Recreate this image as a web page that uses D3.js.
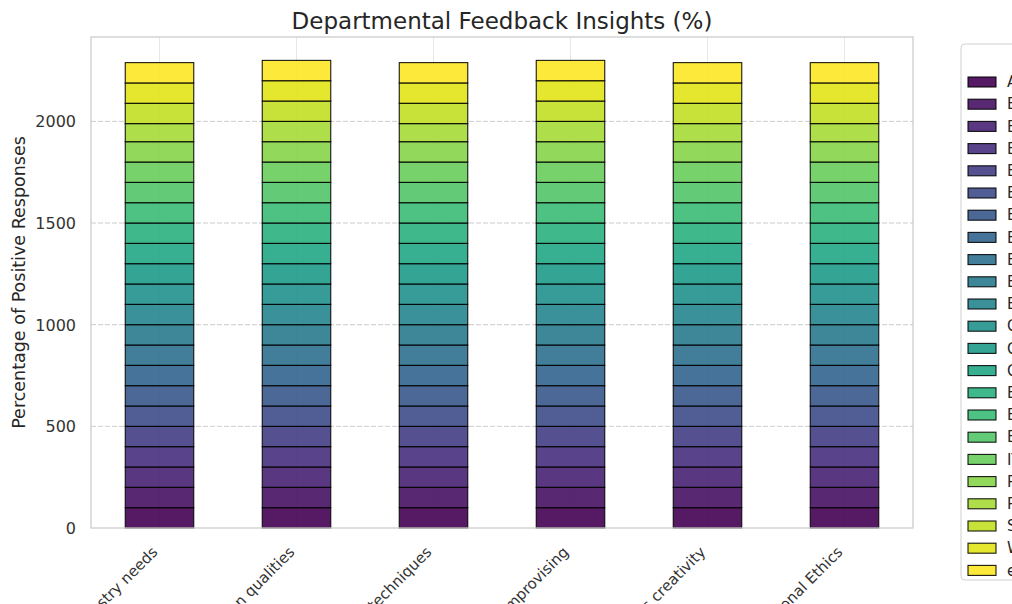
<!DOCTYPE html>
<html>
<head>
<meta charset="UTF-8">
<title>Departmental Feedback Insights</title>
<script src="https://d3js.org/d3.v7.min.js"></script>
<style>
    body {
        margin: 0;
        background: #fff;
        font-family: "DejaVu Sans", sans-serif;
    }
    svg {
        display: block;
    }
    text {
        fill: #262626;
    }
    .tick text {
        fill: #333;
    }
    .grid-y line {
        stroke: #cccccc;
        stroke-dasharray: 5 2;
    }
    .grid-x line {
        stroke: #e6e6e6;
    }
</style>
</head>
<body>
<svg width="1012" height="604"></svg>
<script>
    // feedback questions (x axis)
    const questions = [
        "Curriculum meets industry needs",
        "Faculty communication qualities",
        "Teaching techniques",
        "Scope for improvising",
        "Encourages creativity",
        "Professional Ethics"
    ];

    // departments (legend order)
    const departments = [
        "Architecture", "B.Arch", "B.Com", "B.Pharm", "B.Sc", "BBA", "BCA",
        "BE Biotech", "BE Bio-Medical", "BE Civil", "BE Mech",
        "Chemical", "Civil", "Computer Science",
        "ECE", "EEE", "EIE",
        "IT", "Pharmacy", "Physics", "Science", "Workshop", "e-Learning"
    ];

    // percentage of positive responses, one array per department (values per question)
    const dept_values = [
        [100, 100, 100, 100, 100, 100],
        [100, 100, 100, 100, 100, 100],
        [100, 100, 100, 100, 100, 100],
        [100, 100, 100, 100, 100, 100],
        [100, 100, 100, 100, 100, 100],
        [100, 100, 100, 100, 100, 100],
        [100, 100, 100, 100, 100, 100],
        [100, 100, 100, 100, 100, 100],
        [100, 100, 100, 100, 100, 100],
        [100, 100, 100, 100, 100, 100],
        [100, 100, 100, 100, 100, 100],
        [100, 100, 100, 100, 100, 100],
        [100, 100, 100, 100, 100, 100],
        [100, 100, 100, 100, 100, 100],
        [100, 100, 100, 100, 100, 100],
        [100, 100, 100, 100, 100, 100],
        [100, 100, 100, 100, 100, 100],
        [100, 100, 100, 100, 100, 100],
        [100, 100, 100, 100, 100, 100],
        [89, 100, 89, 100, 89, 89],
        [100, 100, 100, 100, 100, 100],
        [100, 100, 100, 100, 100, 100],
        [100, 100, 100, 100, 100, 100]
    ];

    const yTicks = [0, 500, 1000, 1500, 2000];

    const svg = d3.select("svg");
    const margin = { top: 37, right: 99, bottom: 76, left: 91 };
    const width = 1012 - margin.left - margin.right;
    const height = 604 - margin.top - margin.bottom;

    // build table rows for the stack
    const rows = questions.map((q, qi) => {
        const r = { question: q };
        departments.forEach((d, di) => { r[d] = dept_values[di][qi]; });
        return r;
    });
    const series = d3.stack().keys(departments)(rows);
    const maxTotal = d3.max(rows, r => d3.sum(departments, d => r[d]));

    const x = d3.scaleBand().domain(questions).range([0, width]).paddingInner(0.5).paddingOuter(0.25);
    const y = d3.scaleLinear().domain([0, maxTotal * 1.05]).range([height, 0]);
    const colour = (i) => d3.interpolateViridis(i / (departments.length - 1));

    const g = svg.append("g").attr("transform", `translate(${margin.left},${margin.top})`);

    // vertical grid at category centres
    g.append("g").attr("class", "grid-x")
        .selectAll("line").data(questions).join("line")
        .attr("x1", d => x(d) + x.bandwidth() / 2)
        .attr("x2", d => x(d) + x.bandwidth() / 2)
        .attr("y1", 0).attr("y2", height);

    // dashed horizontal grid
    g.append("g").attr("class", "grid-y")
        .selectAll("line").data(yTicks.slice(1)).join("line")
        .attr("x1", 0).attr("x2", width)
        .attr("y1", d => y(d)).attr("y2", d => y(d));

    // stacked bars
    g.append("g").selectAll("g").data(series).join("g")
        .attr("fill", (s, i) => colour(i))
        .selectAll("rect").data(s => s).join("rect")
        .attr("x", d => x(d.data.question))
        .attr("y", d => y(d[1]))
        .attr("width", x.bandwidth())
        .attr("height", d => y(d[0]) - y(d[1]))
        .attr("fill-opacity", 0.9)
        .attr("stroke", "#000")
        .attr("stroke-opacity", 0.9)
        .attr("stroke-width", 1.1);

    // frame
    g.append("rect")
        .attr("width", width).attr("height", height)
        .attr("fill", "none").attr("stroke", "#cccccc").attr("stroke-width", 1.3);

    // y axis
    const yAxis = g.append("g")
        .call(d3.axisLeft(y).tickValues(yTicks).tickFormat(d3.format("d")).tickSize(0).tickPadding(15));
    yAxis.select(".domain").remove();
    yAxis.selectAll("text")
        .attr("font-family", "DejaVu Sans")
        .style("font-size", "16px")
        .attr("dy", "0.35em");

    // x axis with rotated labels
    const xAxis = g.append("g")
        .attr("transform", `translate(0,${height})`)
        .call(d3.axisBottom(x).tickSize(0));
    xAxis.select(".domain").remove();
    xAxis.selectAll("text")
        .attr("font-family", "DejaVu Sans")
        .style("font-size", "15px")
        .attr("text-anchor", "end")
        .attr("x", 0).attr("y", 0).attr("dy", 0)
        .attr("transform", "translate(-1,25) rotate(-45)");

    // title
    svg.append("text")
        .attr("x", margin.left + width / 2)
        .attr("y", 29)
        .attr("text-anchor", "middle")
        .style("font-size", "23px")
        .text("Departmental Feedback Insights (%)");

    // y label
    svg.append("text")
        .attr("transform", `translate(25,${margin.top + height / 2}) rotate(-90)`)
        .attr("text-anchor", "middle")
        .style("font-size", "17.5px")
        .text("Percentage of Positive Responses");

    // legend
    const legend = svg.append("g").attr("transform", "translate(961,44)");
    legend.append("rect")
        .attr("width", 300).attr("height", 536)
        .attr("rx", 4)
        .attr("fill", "#fff").attr("stroke", "#d0d0d0");
    legend.append("text")
        .attr("x", 150).attr("y", 22)
        .attr("text-anchor", "middle")
        .style("font-size", "15px")
        .text("Department");
    const item = legend.selectAll("g.item").data(departments).join("g")
        .attr("class", "item")
        .attr("transform", (d, i) => `translate(7,${33 + i * 22.2})`);
    item.append("rect")
        .attr("width", 28).attr("height", 10)
        .attr("fill", (d, i) => colour(i)).attr("fill-opacity", 0.9)
        .attr("stroke", "#000").attr("stroke-opacity", 0.9).attr("stroke-width", 1.1);
    item.append("text")
        .attr("x", 39).attr("y", 5).attr("dy", "0.35em")
        .style("font-size", "15px")
        .text(d => d);
</script>
</body>
</html>
